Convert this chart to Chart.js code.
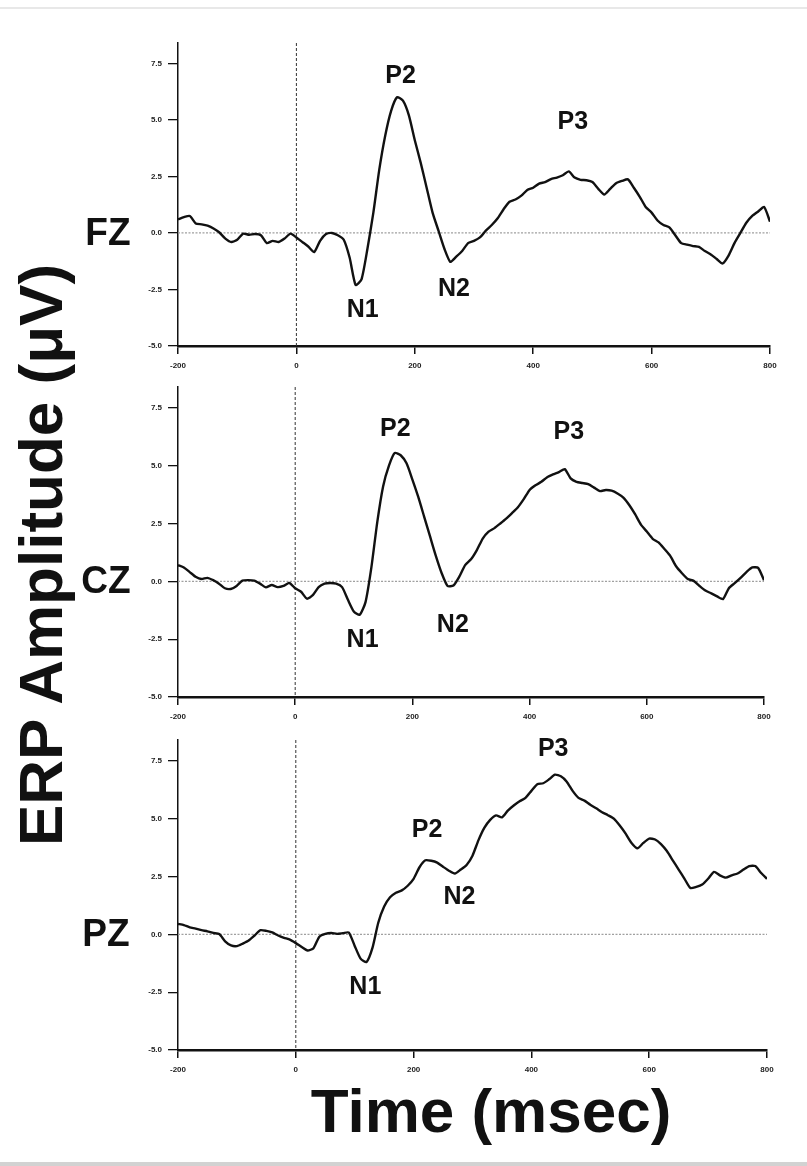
<!DOCTYPE html>
<html>
<head>
<meta charset="utf-8">
<script src="https://cdn.jsdelivr.net/npm/chart.js@4.4.1/dist/chart.umd.min.js"></script>
<style>
  body { margin: 0; background: #fff; }
  #page { position: relative; width: 807px; height: 1166px; overflow: hidden; font-family: "Liberation Sans", Arial, sans-serif; color: #111; }
  canvas { position: absolute; left: 0; }
  .chan { position: absolute; width: 60px; text-align: center; font-weight: bold; font-size: 39px; line-height: 39px; transform: scaleX(0.95); }
  .big { position: absolute; font-weight: bold; font-size: 62px; line-height: 62px; text-align: center; white-space: nowrap; }
  #ytitle { left: -309px; top: 524px; width: 700px; height: 62px; transform: rotate(-90deg); }
  #xtitle { left: 191px; top: 1080px; width: 600px; }
  #topline { position: absolute; left: 0; top: 7px; width: 807px; height: 2px; background: #e8e8e8; }
  #botline { position: absolute; left: 0; top: 1162px; width: 807px; height: 4px; background: #d2d2d2; }
</style>
</head>
<body>
<div id="page">
  <div id="topline"></div>
  <canvas id="fz" width="807" height="380" style="top:0px"></canvas>
  <canvas id="cz" width="807" height="380" style="top:360px"></canvas>
  <canvas id="pz" width="807" height="380" style="top:720px"></canvas>
  <div class="chan" style="left:78px; top:212px">FZ</div>
  <div class="chan" style="left:76px; top:560px">CZ</div>
  <div class="chan" style="left:76px; top:913px">PZ</div>
  <div id="ytitle" class="big">ERP Amplitude (μV)</div>
  <div id="xtitle" class="big">Time (msec)</div>
  <div id="botline"></div>
</div>
<script>
// time points (msec), one every 10 ms
const timesMs = [
  -200, -190, -180, -170, -160, -150, -140, -130, -120, -110,
  -100, -90, -80, -70, -60, -50, -40, -30, -20, -10,
  0, 10, 20, 30, 40, 50, 60, 70, 80, 90,
  100, 110, 120, 130, 140, 150, 160, 170, 180, 190,
  200, 210, 220, 230, 240, 250, 260, 270, 280, 290,
  300, 310, 320, 330, 340, 350, 360, 370, 380, 390,
  400, 410, 420, 430, 440, 450, 460, 470, 480, 490,
  500, 510, 520, 530, 540, 550, 560, 570, 580, 590,
  600, 610, 620, 630, 640, 650, 660, 670, 680, 690,
  700, 710, 720, 730, 740, 750, 760, 770, 780, 790,
  800
];

// ERP amplitudes (uV)
const fzValues = [
  0.6, 0.7, 0.75, 0.42, 0.38, 0.32, 0.2, 0.02, -0.25, -0.4,
  -0.3, -0.03, -0.08, -0.05, -0.1, -0.45, -0.35, -0.4, -0.25, -0.03,
  -0.2, -0.4, -0.6, -0.85, -0.35, -0.05, 0.0, -0.1, -0.3, -1.1,
  -2.3, -2.05, -0.7, 0.9, 2.8, 4.3, 5.4, 6.0, 5.85, 5.2,
  4.1, 3.1, 2.0, 0.9, 0.1, -0.7, -1.28, -1.05, -0.8, -0.45,
  -0.35, -0.2, 0.1, 0.35, 0.65, 1.05, 1.38, 1.48, 1.65, 1.9,
  2.0, 2.18, 2.25, 2.38, 2.45, 2.55, 2.72, 2.45, 2.35, 2.33,
  2.25, 1.95, 1.7, 1.95, 2.2, 2.3, 2.37, 2.0, 1.6, 1.15,
  0.9, 0.55, 0.35, 0.25, -0.1, -0.45, -0.52, -0.58, -0.62, -0.8,
  -0.95, -1.15, -1.35, -1.0, -0.45, 0.0, 0.45, 0.75, 0.95, 1.15,
  0.5
];
const czValues = [
  0.7, 0.6, 0.4, 0.2, 0.1, 0.15, 0.05, -0.1, -0.3, -0.33,
  -0.2, 0.03, 0.05, 0.03, -0.1, -0.26, -0.16, -0.25, -0.2, -0.07,
  -0.3, -0.45, -0.75, -0.6, -0.25, -0.1, -0.07, -0.1, -0.25, -0.8,
  -1.3, -1.45, -0.9, 0.6, 2.55, 4.1, 5.0, 5.55, 5.45, 5.1,
  4.4, 3.65, 2.8, 1.95, 1.1, 0.35, -0.2, -0.18, 0.2, 0.7,
  0.95, 1.35, 1.85, 2.15, 2.3, 2.5, 2.71, 2.95, 3.2, 3.55,
  3.95, 4.15, 4.3, 4.5, 4.62, 4.72, 4.85, 4.45, 4.3, 4.25,
  4.2, 4.05, 3.9, 3.95, 3.92, 3.8, 3.62, 3.3, 2.9, 2.45,
  2.15, 1.84, 1.68, 1.4, 1.1, 0.65, 0.35, 0.1, 0.02, -0.2,
  -0.4, -0.52, -0.65, -0.77, -0.3, -0.08, 0.15, 0.4, 0.6, 0.58,
  0.05
];
const pzValues = [
  0.45, 0.4, 0.3, 0.25, 0.18, 0.13, 0.06, 0.01, -0.3, -0.48,
  -0.51, -0.4, -0.27, -0.05, 0.18, 0.15, 0.08, -0.05, -0.15, -0.23,
  -0.38, -0.55, -0.7, -0.6, -0.1, 0.02, 0.06, 0.02, 0.05, 0.08,
  -0.5, -1.05, -1.2, -0.6, 0.5, 1.2, 1.6, 1.8, 1.9, 2.1,
  2.4, 2.9, 3.2, 3.18, 3.1, 2.92, 2.75, 2.63, 2.8, 3.0,
  3.4, 4.06, 4.6, 4.95, 5.14, 5.06, 5.35, 5.57, 5.75, 5.9,
  6.2, 6.49, 6.53, 6.7, 6.9, 6.83, 6.6, 6.2, 5.9, 5.78,
  5.6, 5.45, 5.28, 5.15, 5.0, 4.7, 4.35, 3.95, 3.72, 3.95,
  4.14, 4.1, 3.9, 3.6, 3.2, 2.8, 2.4, 2.0, 2.05, 2.15,
  2.4, 2.7, 2.55, 2.45, 2.55, 2.63, 2.8, 2.95, 2.95, 2.65,
  2.4
];

const xTicks = [-200, 0, 200, 400, 600, 800];
const yTicks = [-5, -2.5, 0, 2.5, 5, 7.5];

// component labels: [text, time, amplitude]
const fzPeaks = [['P2', 176, 6.93], ['N1', 112, -3.4], ['N2', 266, -2.47], ['P3', 467, 4.89]];
const czPeaks = [['P2', 171, 6.56], ['N1', 115, -2.56], ['N2', 269, -1.88], ['P3', 467, 6.45]];
const pzPeaks = [['P2', 223, 4.49], ['N1', 118, -2.3], ['N2', 278, 1.6], ['P3', 437, 8.0]];

const FONT = '"Liberation Sans", Arial, sans-serif';

// dotted zero line, dashed stimulus line, peak names
const erpDecor = {
  id: 'erpDecor',
  beforeDatasetsDraw(chart) {
    const { ctx, chartArea, scales: { x, y } } = chart;
    const y0 = y.getPixelForValue(0);
    ctx.save();
    ctx.strokeStyle = '#a0a0a0';
    ctx.lineWidth = 1.3;
    ctx.setLineDash([2, 1.5]);
    ctx.beginPath();
    ctx.moveTo(x.getPixelForValue(-200), y0);
    ctx.lineTo(x.getPixelForValue(800), y0);
    ctx.stroke();

    const x0 = x.getPixelForValue(0);
    ctx.strokeStyle = '#333';
    ctx.lineWidth = 1;
    ctx.setLineDash([3, 2]);
    ctx.beginPath();
    ctx.moveTo(x0, chartArea.top);
    ctx.lineTo(x0, chartArea.bottom);
    ctx.stroke();
    ctx.restore();
  },
  afterDatasetsDraw(chart, args, opts) {
    const { ctx, scales: { x, y } } = chart;
    ctx.save();
    ctx.font = 'bold 25px ' + FONT;
    ctx.fillStyle = '#111';
    ctx.textAlign = 'center';
    ctx.textBaseline = 'middle';
    (opts.peaks || []).forEach(([name, t, v]) => {
      ctx.fillText(name, x.getPixelForValue(t), y.getPixelForValue(v));
    });
    ctx.restore();
  }
};

function makeErpChart(canvasId, values, peaks, pad) {
  const ctx = document.getElementById(canvasId).getContext('2d');
  return new Chart(ctx, {
    type: 'line',
    data: {
      datasets: [{
        data: timesMs.map((t, i) => ({ x: t, y: values[i] })),
        borderColor: '#111',
        borderWidth: 2.4,
        pointRadius: 0,
        tension: 0.2,
        fill: false
      }]
    },
    options: {
      responsive: false,
      animation: false,
      layout: { padding: pad },
      plugins: {
        legend: { display: false },
        tooltip: { enabled: false },
        erpDecor: { peaks: peaks }
      },
      scales: {
        x: {
          type: 'linear',
          min: -200,
          max: 800,
          afterBuildTicks: s => { s.ticks = xTicks.map(v => ({ value: v })); },
          afterFit: s => { s.height = 30; },
          grid: { drawOnChartArea: false, drawTicks: true, tickLength: 8, color: '#111', lineWidth: 1.5 },
          border: { display: true, color: '#111', width: 2.5 },
          ticks: { color: '#222', padding: 7, maxRotation: 0, font: { family: FONT, size: 8, weight: 'bold' }, callback: v => String(v) }
        },
        y: {
          min: -5,
          max: 8.4,
          afterBuildTicks: s => { s.ticks = yTicks.map(v => ({ value: v })); },
          afterFit: s => { s.width = 78; },
          grid: { drawOnChartArea: false, drawTicks: true, tickLength: 10, color: '#111', lineWidth: 1.3 },
          border: { display: true, color: '#111', width: 1.5 },
          ticks: { color: '#222', padding: 6, font: { family: FONT, size: 8, weight: 'bold' }, callback: v => v.toFixed(1) }
        }
      }
    },
    plugins: [erpDecor]
  });
}

makeErpChart('fz', fzValues, fzPeaks, { top: 43, bottom: 4, left: 100, right: 37 });
makeErpChart('cz', czValues, czPeaks, { top: 27, bottom: 13, left: 100, right: 43 });
makeErpChart('pz', pzValues, pzPeaks, { top: 20, bottom: 20, left: 100, right: 40 });
</script>
</body>
</html>
